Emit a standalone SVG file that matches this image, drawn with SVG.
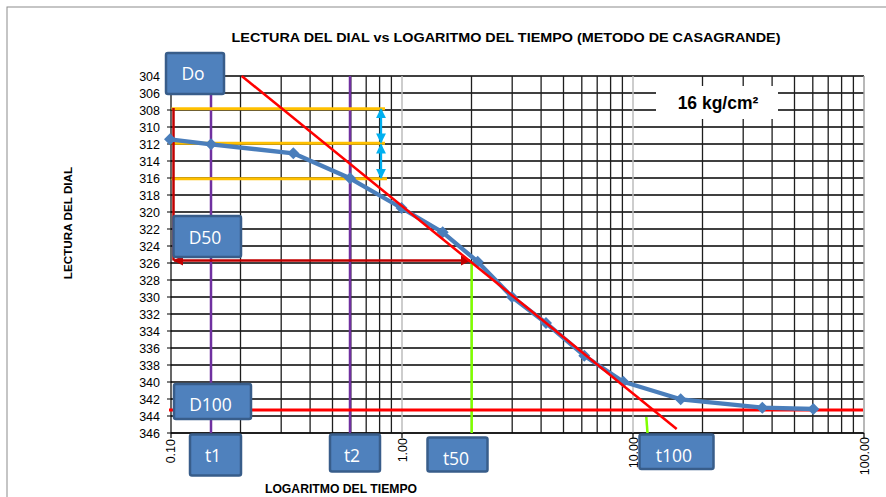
<svg xmlns="http://www.w3.org/2000/svg" width="886" height="497" viewBox="0 0 886 497">
<style>
.t{font-family:"Liberation Sans",Arial,sans-serif;fill:#000}
.b{font-weight:bold}
.yl{font-size:12.5px;text-anchor:end}
.xl{font-size:12.5px;text-anchor:end}
.hg{stroke:#000;stroke-width:1.3}
.vg{stroke:#1e1e1e;stroke-width:1.3}
.vd{stroke:#bdbdbd;stroke-width:1.5}
.box rect{fill:#4f81bd;stroke:#385d8a;stroke-width:2.5}
.box text{font-family:"Open Sans","Noto Sans",sans-serif;font-size:17.5px;fill:#fff;text-anchor:middle}
.pur{stroke:#7030a0;stroke-width:2.5}
.grn{stroke:#80ff00;stroke-width:2.5}
.org{stroke:#ffc000;stroke-width:3}
</style>
<defs>
<marker id="ah" viewBox="0 0 10 10" refX="9" refY="5" markerWidth="4.6" markerHeight="4" orient="auto-start-reverse" markerUnits="strokeWidth">
<path d="M0,0 L10,5 L0,10 z" fill="#c00000"/>
</marker>
<marker id="ac" viewBox="0 0 10 10" refX="9" refY="5" markerWidth="4.6" markerHeight="4.3" orient="auto-start-reverse" markerUnits="strokeWidth">
<path d="M0,0 L10,5 L0,10 z" fill="#00b0f0"/>
</marker>
<path id="dm" d="M0,-6 L6,0 L0,6 L-6,0 z" fill="#4a7ebb"/>
</defs>
<rect x="0" y="0" width="886" height="497" fill="#fff"/>
<rect x="7" y="7" width="900" height="520" fill="none" stroke="#8c8c8c" stroke-width="1"/>
<text class="t b" x="506" y="41.5" font-size="13" text-anchor="middle" textLength="549" lengthAdjust="spacingAndGlyphs">LECTURA DEL DIAL vs LOGARITMO DEL TIEMPO (METODO DE CASAGRANDE)</text>
<text class="t b" font-size="11.7" text-anchor="middle" transform="translate(72,223) rotate(-90)">LECTURA DEL DIAL</text>
<text class="t b" font-size="12.2" x="341" y="492.5" text-anchor="middle">LOGARITMO DEL TIEMPO</text>
<g id="grid">
<g class="hg">
<line x1="171" y1="76" x2="864" y2="76"/><line x1="171" y1="93" x2="864" y2="93"/><line x1="171" y1="110" x2="864" y2="110"/><line x1="171" y1="127" x2="864" y2="127"/><line x1="171" y1="144" x2="864" y2="144"/><line x1="171" y1="161" x2="864" y2="161"/><line x1="171" y1="178" x2="864" y2="178"/><line x1="171" y1="195" x2="864" y2="195"/><line x1="171" y1="212" x2="864" y2="212"/><line x1="171" y1="229" x2="864" y2="229"/><line x1="171" y1="246" x2="864" y2="246"/><line x1="171" y1="263" x2="864" y2="263"/><line x1="171" y1="280" x2="864" y2="280"/><line x1="171" y1="297" x2="864" y2="297"/><line x1="171" y1="314" x2="864" y2="314"/><line x1="171" y1="331" x2="864" y2="331"/><line x1="171" y1="348" x2="864" y2="348"/><line x1="171" y1="365" x2="864" y2="365"/><line x1="171" y1="382" x2="864" y2="382"/><line x1="171" y1="399" x2="864" y2="399"/><line x1="171" y1="416" x2="864" y2="416"/><line x1="171" y1="433" x2="864" y2="433"/>
</g>
<g class="vg">
<line x1="240.5" y1="76" x2="240.5" y2="433"/><line x1="281.2" y1="76" x2="281.2" y2="433"/><line x1="310.1" y1="76" x2="310.1" y2="433"/><line x1="332.5" y1="76" x2="332.5" y2="433"/><line x1="350.8" y1="76" x2="350.8" y2="433"/><line x1="366.2" y1="76" x2="366.2" y2="433"/><line x1="379.6" y1="76" x2="379.6" y2="433"/><line x1="391.4" y1="76" x2="391.4" y2="433"/>
<line x1="471.5" y1="76" x2="471.5" y2="433"/><line x1="512.2" y1="76" x2="512.2" y2="433"/><line x1="541.1" y1="76" x2="541.1" y2="433"/><line x1="563.5" y1="76" x2="563.5" y2="433"/><line x1="581.8" y1="76" x2="581.8" y2="433"/><line x1="597.2" y1="76" x2="597.2" y2="433"/><line x1="610.6" y1="76" x2="610.6" y2="433"/><line x1="622.4" y1="76" x2="622.4" y2="433"/>
<line x1="702.5" y1="76" x2="702.5" y2="433"/><line x1="743.2" y1="76" x2="743.2" y2="433"/><line x1="772.1" y1="76" x2="772.1" y2="433"/><line x1="794.5" y1="76" x2="794.5" y2="433"/><line x1="812.8" y1="76" x2="812.8" y2="433"/><line x1="828.2" y1="76" x2="828.2" y2="433"/><line x1="841.6" y1="76" x2="841.6" y2="433"/><line x1="853.4" y1="76" x2="853.4" y2="433"/>
</g>
<g class="vd">
<line x1="402" y1="76" x2="402" y2="433"/><line x1="633" y1="76" x2="633" y2="433"/><line x1="864" y1="76" x2="864" y2="433" stroke="#a0a0a0"/>
</g>
<g stroke="#000" stroke-width="1.2">
<line x1="171" y1="76" x2="171" y2="433"/>
<line x1="171" y1="433" x2="864" y2="433"/>
<path d="M167,76H171M167,93H171M167,110H171M167,127H171M167,144H171M167,161H171M167,178H171M167,195H171M167,212H171M167,229H171M167,246H171M167,263H171M167,280H171M167,297H171M167,314H171M167,331H171M167,348H171M167,365H171M167,382H171M167,399H171M167,416H171M167,433H171"/>
<path d="M171,433V438M402,433V438M633,433V438M864,433V438"/>
</g>
</g>
<g id="axis-labels" class="t">
<text class="yl" x="160" y="80.5">304</text><text class="yl" x="160" y="97.5">306</text><text class="yl" x="160" y="114.5">308</text><text class="yl" x="160" y="131.5">310</text><text class="yl" x="160" y="148.5">312</text><text class="yl" x="160" y="165.5">314</text><text class="yl" x="160" y="182.5">316</text><text class="yl" x="160" y="199.5">318</text><text class="yl" x="160" y="216.5">320</text><text class="yl" x="160" y="233.5">322</text><text class="yl" x="160" y="250.5">324</text><text class="yl" x="160" y="267.5">326</text><text class="yl" x="160" y="284.5">328</text><text class="yl" x="160" y="301.5">330</text><text class="yl" x="160" y="318.5">332</text><text class="yl" x="160" y="335.5">334</text><text class="yl" x="160" y="352.5">336</text><text class="yl" x="160" y="369.5">338</text><text class="yl" x="160" y="386.5">340</text><text class="yl" x="160" y="403.5">342</text><text class="yl" x="160" y="420.5">344</text><text class="yl" x="160" y="437.5">346</text>
<text class="xl" transform="translate(174.5,439) rotate(-90)">0.10</text>
<text class="xl" transform="translate(406.5,438) rotate(-90)">1.00</text>
<text class="xl" transform="translate(637.5,437) rotate(-90)">10.00</text>
<text class="xl" transform="translate(869,437) rotate(-90)">100.00</text>
</g>
<g id="label-16">
<rect x="656" y="86" width="122" height="33" fill="#fff"/>
<text class="t b" x="718" y="109.3" font-size="17.5" text-anchor="middle">16 kg/cm²</text>
</g>
<g id="connectors" fill="none">
<line class="pur" x1="211" y1="76" x2="211" y2="433"/>
<line class="pur" x1="350" y1="76" x2="350" y2="433"/>
<line class="grn" x1="471.7" y1="261" x2="471.7" y2="433"/>
<line class="grn" x1="646.3" y1="417" x2="647.5" y2="433"/>
<line x1="169" y1="410" x2="863" y2="410" stroke="#ff0000" stroke-width="3"/>
<line class="org" x1="171.5" y1="108.7" x2="385" y2="108.7"/>
<line class="org" x1="171.5" y1="143.3" x2="385" y2="143.3"/>
<line class="org" x1="171.5" y1="178.7" x2="387" y2="178.7"/>
<line x1="173.5" y1="108" x2="173.5" y2="260.5" stroke="#c00000" stroke-width="2.5"/>
<line x1="174" y1="260.5" x2="470" y2="260.5" stroke="#c00000" stroke-width="2.5" marker-start="url(#ah)" marker-end="url(#ah)"/>
<line x1="381" y1="109" x2="381" y2="142.5" stroke="#00b0f0" stroke-width="2.3" marker-start="url(#ac)" marker-end="url(#ac)"/>
<line x1="381" y1="144.5" x2="381" y2="178" stroke="#00b0f0" stroke-width="2.3" marker-start="url(#ac)" marker-end="url(#ac)"/>
</g>
<g id="series">
<polyline fill="none" stroke="#4a7ebb" stroke-width="4.3" stroke-linejoin="round" points="170,139.3 211,144.3 293.3,153.3 350,178.3 401.5,208 442.7,232.3 477.7,261.7 512,297 546,323 584.3,355.7 623.3,381.7 680.7,399.3 762.3,407.7 813.3,409"/>
<use href="#dm" x="170" y="139.3"/><use href="#dm" x="211" y="144.3"/><use href="#dm" x="293.3" y="153.3"/><use href="#dm" x="350" y="178.3"/><use href="#dm" x="401.5" y="208"/><use href="#dm" x="442.7" y="232.3"/><use href="#dm" x="477.7" y="261.7"/><use href="#dm" x="512" y="297"/><use href="#dm" x="546" y="323"/><use href="#dm" x="584.3" y="355.7"/><use href="#dm" x="623.3" y="381.7"/><use href="#dm" x="680.7" y="399.3"/><use href="#dm" x="762.3" y="407.7"/><use href="#dm" x="813.3" y="409"/>
</g>
<g id="tangent">
<line x1="241.7" y1="76" x2="676.7" y2="429" stroke="#ff0000" stroke-width="2.5"/>
</g>
<g id="node-Do" class="box"><rect x="166" y="53" width="58" height="41" rx="2"/><text x="193" y="79.5">Do</text></g>
<g id="node-D50" class="box"><rect x="173.5" y="216" width="67.5" height="41" rx="2"/><text x="205" y="244">D50</text></g>
<g id="node-D100" class="box"><rect x="174" y="384" width="77" height="35" rx="2"/><text x="210.5" y="410.5">D100</text></g>
<g id="node-t1" class="box"><rect x="190" y="434.5" width="51" height="41" rx="2"/><text x="213" y="461.5">t1</text></g>
<g id="node-t2" class="box"><rect x="330" y="434.5" width="50" height="37" rx="2"/><text x="352" y="461.5">t2</text></g>
<g id="node-t50" class="box"><rect x="427.5" y="437.5" width="60" height="34" rx="2"/><text x="456" y="464.5">t50</text></g>
<g id="node-t100" class="box"><rect x="639.5" y="434.5" width="74" height="34.5" rx="2"/><text x="674" y="461.5">t100</text></g>
</svg>
